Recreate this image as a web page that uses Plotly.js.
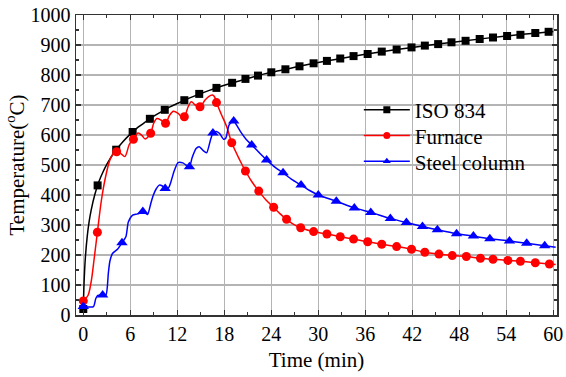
<!DOCTYPE html>
<html>
<head>
<meta charset="utf-8">
<script src="https://cdn.plot.ly/plotly-3.0.1.min.js"></script>
<style>html,body{margin:0;padding:0;background:#fff;}#chart{width:566px;height:377px;}</style>
</head>
<body>
<div id="chart"></div>
<script>
// ISO 834 standard curve
var isoLineT = [0,0.1,0.25,0.5,0.75,1,1.5,2,2.5,3,4,5,6,7,8,9,10,11,12,14,16,18,20,22,24,26,28,30,32,36,40,42,48,54,60];
var isoLineV = [20,108,185,261,312,349,404,445,476,502,544,576,603,626,645,663,678,693,705,728,748,766,781,796,809,820,832,842,851,869,885,892,912,930,945];
var isoMarkT = [0,1.83,4.2,6.3,8.5,10.4,12.9,14.8,17.0,19.0,20.7,22.3,24.0,25.8,27.6,29.4,31.1,32.8,34.5,36.3,38.1,40.0,41.9,43.6,45.3,47.0,48.8,50.6,52.3,54.1,55.8,57.7,59.4];
var isoMarkV = [20,432,551,610,654,684,716,737,757,774,787,798,809,819,829,839,847,855,863,870,878,885,892,898,903,909,914,920,925,930,934,940,944];

// Furnace
var furLineT = [0,0.6,1.0,1.4,1.8,2.3,2.8,3.4,3.9,4.26,4.8,5.3,5.9,6.4,7.0,7.5,7.9,8.6,9.0,9.4,9.9,10.5,11.0,11.5,12.1,12.6,12.9,13.4,13.8,14.3,14.9,15.5,16.0,16.5,16.8,17.0,17.6,18.3,18.95,20.0,20.7,21.5,22.4,23.3,24.3,25.1,25.95,26.8,27.75,29.4,31.1,32.8,34.5,36.3,38.1,40.0,41.9,43.6,45.4,47.1,48.9,50.7,52.3,54.2,55.8,57.7,59.5,60.3];
var furLineV = [47,65,110,190,276,380,455,517,540,544,538,528,570,586,607,598,587,606,640,655,650,639,665,679,672,660,661,695,711,700,694,715,728,733,725,708,670,628,574,515,480,445,413,384,359,338,319,303,291,278,270,261,253,244,236,228,219,209,203,198,195,189,186,182,179,174,170,168];
var furMarkT = [0,1.8,4.26,6.4,8.6,10.5,12.9,14.9,17.0,18.95,20.7,22.4,24.3,25.95,27.75,29.4,31.1,32.8,34.5,36.3,38.1,40.0,41.9,43.6,45.4,47.1,48.9,50.7,52.3,54.2,55.8,57.7,59.5];
var furMarkV = [47,276,544,586,606,639,661,694,708,574,480,413,359,319,291,278,270,261,253,244,236,228,219,209,203,198,195,189,186,182,179,174,170];

// Steel column
var colLineT = [0,0.5,1.3,1.6,1.85,2.47,2.9,3.2,3.4,3.75,4.4,4.94,5.45,5.75,6.3,6.94,7.6,8.2,8.6,8.9,9.3,9.7,10.1,10.45,10.9,11.2,11.6,12.1,12.7,13.1,13.55,13.9,14.4,14.8,15.3,15.75,16.2,16.55,17.0,17.4,17.9,18.2,18.6,19.2,19.6,20.2,20.8,21.5,22.5,23.4,24.5,25.5,26.6,27.8,28.9,30.0,32.3,34.6,36.7,39.2,41.25,43.3,45.2,47.65,49.8,51.9,54.4,56.6,58.9,60.3];
var colLineV = [28,27,28,55,65,67,67,140,180,206,220,241,262,310,333,337,345,335,370,397,420,433,430,422,425,445,480,508,507,500,494,525,555,561,548,541,580,607,612,605,586,590,633,647,632,606,585,567,540,517,492,474,452,433,415,400,379,357,342,322,308,295,284,271,263,254,247,239,231,226];
var colMarkT = [0,2.47,4.94,7.6,10.45,13.55,16.55,19.2,21.5,23.4,25.5,27.8,30.0,32.3,34.6,36.7,39.2,41.25,43.3,45.2,47.65,49.8,51.9,54.4,56.6,58.9];
var colMarkV = [28,67,241,345,422,494,607,647,567,517,474,433,400,379,357,342,322,308,295,284,271,263,254,247,239,231];

var seriesNames = ['ISO 834','Furnace','Steel column'];
var xTicks = [0,6,12,18,24,30,36,42,48,54,60];
var yTicks = [0,100,200,300,400,500,600,700,800,900,1000];

var colors = ['#000000','#ff0000','#0000ff'];
var symbols = ['square','circle','triangle-up'];
var msizes = [8,9,10];
var lines = [[isoLineT,isoLineV],[furLineT,furLineV],[colLineT,colLineV]];
var marks = [[isoMarkT,isoMarkV],[furMarkT,furMarkV],[colMarkT,colMarkV]];
var smooth = [0.8,0.9,0.6];
var legendIds = ['legend','legend2','legend3'];

var traces = [];
for (var i=0;i<3;i++){
  traces.push({x:lines[i][0], y:lines[i][1], mode:'lines', type:'scatter',
    line:{color:colors[i], width:1.5, shape:'spline', smoothing:smooth[i]},
    showlegend:false, hoverinfo:'skip'});
  traces.push({x:marks[i][0], y:marks[i][1], mode:'markers', type:'scatter',
    marker:{color:colors[i], symbol:symbols[i], size:msizes[i]}, showlegend:false});
}
for (var j=0;j<3;j++){
  traces.push({x:[null], y:[null], mode:'lines+markers', type:'scatter', name:seriesNames[j],
    legend:legendIds[j],
    line:{color:colors[j], width:1.5}, marker:{color:colors[j], symbol:symbols[j], size:7}});
}

var serif = 'Liberation Serif';
function legendBox(yc){
  return {x:0.588, y:yc, xanchor:'left', yanchor:'middle', bgcolor:'rgba(0,0,0,0)', borderwidth:0,
    font:{family:serif, size:21, color:'#000'}, itemwidth:46};
}
var layout = {
  width:566, height:377,
  margin:{l:76, r:9, t:15, b:62},
  paper_bgcolor:'#fff', plot_bgcolor:'#fff',
  font:{family:serif, size:21, color:'#000'},
  showlegend:true,
  legend:legendBox(0.683),
  legend2:legendBox(0.597),
  legend3:legendBox(0.511),
  shapes:[{type:'rect', xref:'paper', yref:'paper', x0:0.58, x1:0.955, y0:0.475, y1:0.727,
    fillcolor:'#fff', line:{width:0}, layer:'between'}],
  xaxis:{range:[-0.93,60.47], tickvals:xTicks, ticktext:xTicks.map(String),
    showgrid:true, gridcolor:'#b4b4b4', gridwidth:1.5, zeroline:false,
    showline:true, linecolor:'#333', linewidth:1.5, mirror:'allticks',
    ticks:'inside', ticklen:5, tickwidth:1.2, tickcolor:'#333',
    minor:{dtick:3, tick0:0, ticks:'inside', ticklen:3, tickcolor:'#333', showgrid:false},
    tickfont:{family:serif, size:20, color:'#000'},
    title:{text:'Time (min)', font:{family:serif, size:21, color:'#000'}, standoff:9}},
  yaxis:{range:[0,1000], tickvals:yTicks, ticktext:yTicks.map(String),
    showgrid:true, gridcolor:'#b4b4b4', gridwidth:1.5, zeroline:false,
    showline:true, linecolor:'#333', linewidth:1.5, mirror:'allticks',
    ticks:'inside', ticklen:5, tickwidth:1.2, tickcolor:'#333',
    minor:{dtick:50, tick0:0, ticks:'inside', ticklen:3, tickcolor:'#333', showgrid:false},
    tickfont:{family:serif, size:20, color:'#000'},
    title:{text:'Temperature(<sup>o</sup>C)', font:{family:serif, size:21, color:'#000'}, standoff:0}}
};
Plotly.newPlot('chart', traces, layout, {staticPlot:true});
</script>
</body>
</html>
